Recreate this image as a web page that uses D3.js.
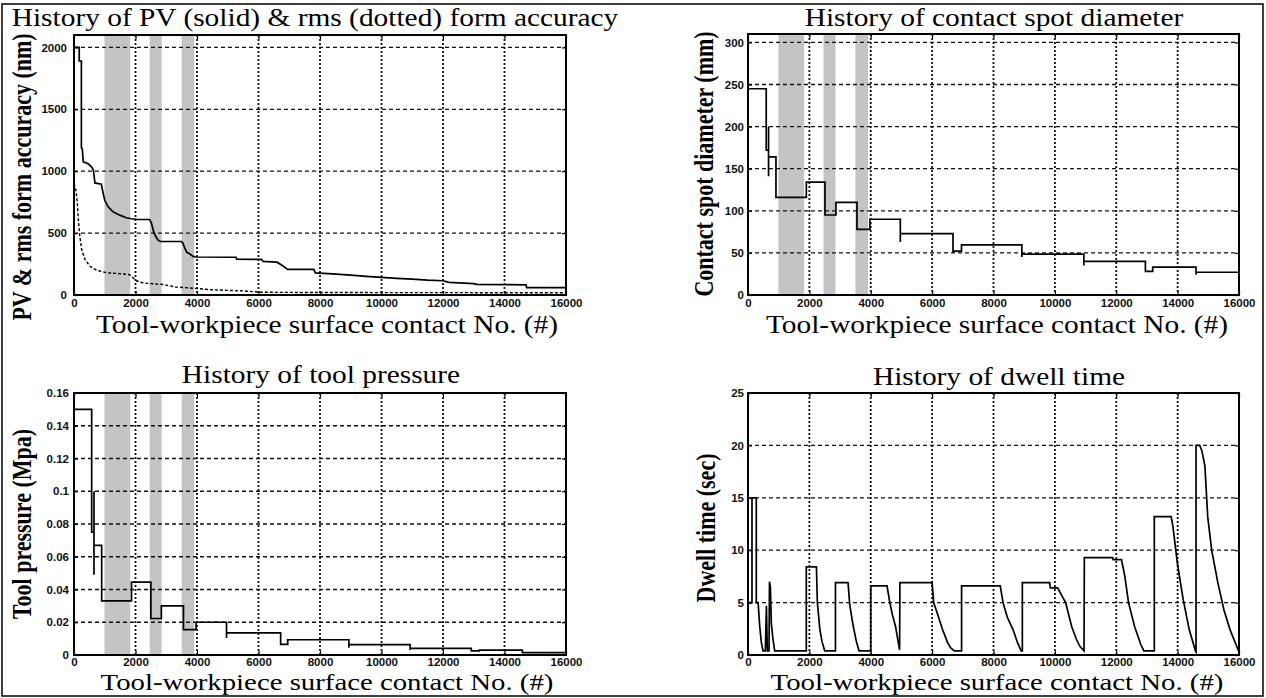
<!DOCTYPE html>
<html>
<head>
<meta charset="utf-8">
<script src="https://cdn.jsdelivr.net/npm/d3@7"></script>
<style>
  body { margin: 0; background: #fff; }
</style>
</head>
<body>
<div id="chart"></div>
<script>
// contact number ticks shared by all four panels
const xTicks = [0, 2000, 4000, 6000, 8000, 10000, 12000, 14000, 16000];
// grey shaded intervals (contact No.)
const bands = [[990, 1830], [2460, 2850], [3500, 3910]];

// PV (solid) form accuracy, nm
const pvData = [
    [0, 2000], [170, 2000], [170, 1890], [240, 1890], [240, 1190], [270, 1180], [300, 1075],
    [460, 1060], [570, 1035], [630, 1010], [680, 905], [890, 895], [950, 820], [1000, 765],
    [1110, 712], [1270, 672], [1490, 645], [1700, 624], [1870, 616], [2030, 611], [2460, 610],
    [2520, 580], [2590, 512], [2660, 472], [2730, 445], [2810, 432], [3490, 432], [3540, 420],
    [3600, 380], [3670, 345], [3760, 333], [3870, 312], [3970, 307], [5270, 305], [5290, 290],
    [6100, 287], [6150, 272], [6600, 265], [6750, 242], [6950, 207], [7800, 207], [7850, 178],
    [8400, 170], [9000, 160], [9500, 150], [10000, 142], [10500, 134], [11000, 128], [11500, 120],
    [12000, 115], [12200, 102], [13000, 92], [13100, 86], [14000, 84], [14700, 82], [14720, 60],
    [16000, 60]
];
// rms (dotted) form accuracy, nm
const rmsData = [
    [0, 900], [60, 850], [110, 740], [140, 610], [190, 475], [250, 365], [360, 285], [520, 232],
    [730, 200], [1060, 180], [1500, 172], [1800, 165], [1920, 140], [2030, 115], [2250, 97],
    [2600, 90], [2900, 85], [3300, 65], [3700, 58], [4000, 52], [4500, 42], [5500, 33],
    [6100, 22], [8000, 20], [16000, 18]
];
// contact spot diameter, mm
const spotData = [
    [0, 245], [594, 245], [594, 172], [670, 172], [670, 200], [670, 141], [670, 164], [911, 164],
    [911, 116], [1901, 116], [1901, 134], [2508, 134], [2508, 95], [2865, 95], [2865, 110],
    [3551, 110], [3551, 78], [3974, 78], [3974, 90], [4964, 90], [4964, 63], [4964, 73],
    [6680, 73], [6680, 50], [6680, 52], [6957, 52], [6957, 59.5], [8924, 59.5], [8924, 45],
    [8924, 48.5], [10944, 48.5], [10944, 35], [10944, 40], [12950, 40], [12950, 28], [13188, 28],
    [13188, 33], [14600, 33], [14600, 24], [14600, 27], [16000, 27]
];
// tool pressure, MPa
const pressureData = [
    [0, 0.150], [575, 0.150], [575, 0.075], [650, 0.075], [650, 0.100], [650, 0.049], [650, 0.067],
    [900, 0.067], [900, 0.033], [1870, 0.033], [1870, 0.0445], [2500, 0.0445], [2500, 0.0223],
    [2840, 0.0223], [2840, 0.030], [3560, 0.030], [3560, 0.0155], [3970, 0.0155], [3970, 0.020],
    [4960, 0.020], [4960, 0.0104], [4960, 0.0135], [6720, 0.0135], [6720, 0.0065], [6950, 0.0065],
    [6950, 0.0093], [8940, 0.0093], [8940, 0.0045], [8940, 0.0063], [10930, 0.0063], [10930, 0.003],
    [10930, 0.004], [12920, 0.004], [12920, 0.0025], [13180, 0.0025], [13180, 0.003], [14580, 0.003],
    [14580, 0.0015], [16000, 0.0015]
];
// dwell time, sec
const dwellData = [
    [0, 5], [130, 5], [130, 15], [270, 15], [270, 5], [330, 5], [380, 2.8], [435, 1.2], [490, 0.4],
    [565, 0.4], [600, 4.7], [630, 0.4], [685, 0.4], [700, 7], [730, 6.5], [760, 3], [815, 1.5],
    [870, 0.4], [1900, 0.4], [1900, 8.4], [2230, 8.4], [2260, 5], [2340, 2.5], [2410, 1.3],
    [2500, 0.4], [2850, 0.4], [2850, 6.9], [3260, 6.9], [3315, 4.8], [3420, 2.9], [3530, 1.3],
    [3620, 0.4], [4000, 0.4], [4000, 6.6], [4530, 6.6], [4610, 5.2], [4700, 3.9], [4810, 2.7],
    [4880, 1.5], [4940, 0.5], [4950, 6.9], [6000, 6.9], [6050, 5], [6200, 3.7], [6330, 2.5],
    [6500, 1.2], [6600, 0.7], [6720, 0.4], [6960, 0.4], [6960, 6.6], [8220, 6.6], [8310, 5],
    [8450, 3.6], [8640, 2.4], [8780, 1.2], [8900, 0.4], [8940, 0.4], [8940, 6.9], [9830, 6.9],
    [9850, 6.4], [10090, 6.4], [10200, 5.8], [10350, 5], [10550, 2.7], [10700, 1.5], [10820, 0.8],
    [10950, 0.4], [10960, 9.3], [11880, 9.3], [11900, 9.1], [12170, 9.1], [12280, 7.5], [12400, 5],
    [12600, 2.7], [12800, 1], [12900, 0.4], [13240, 0.4], [13240, 13.2], [13790, 13.2],
    [13850, 12.2], [13990, 8.8], [14180, 5.3], [14380, 2.4], [14580, 0.4], [14600, 0.3], [14600, 20],
    [14720, 20], [14790, 19.5], [14890, 18], [14980, 13.2], [15110, 10], [15310, 6.9], [15510, 4.3],
    [15710, 2.4], [15970, 0.5], [16000, 0.3]
];

const pvTicks = [0, 500, 1000, 1500, 2000];
const spotTicks = [0, 50, 100, 150, 200, 250, 300];
const pressureTicks = [0, 0.02, 0.04, 0.06, 0.08, 0.1, 0.12, 0.14, 0.16];
const dwellTicks = [0, 5, 10, 15, 20, 25];

const width = 1266, height = 698;
const serif = "'Liberation Serif', 'Times New Roman', serif";
const sans = "'Liberation Sans', Arial, sans-serif";
const stretch = 1.2; // the figure is widened horizontally

const svg = d3.select("#chart")
    .append("svg")
    .attr("width", width)
    .attr("height", height);

svg.append("rect")
    .attr("x", 0).attr("y", 0)
    .attr("width", width).attr("height", height)
    .attr("fill", "#fff");

svg.append("rect")
    .attr("x", 2).attr("y", 4)
    .attr("width", 1261).attr("height", 692)
    .attr("fill", "none")
    .attr("stroke", "#000")
    .attr("stroke-width", 1.5);

function label(g, txt, x, y, size, weight, rot) {
    g.append("text")
        .text(txt)
        .attr("transform", `translate(${x},${y}) scale(${stretch},1)` + (rot ? " rotate(-90)" : ""))
        .attr("text-anchor", "middle")
        .attr("font-family", serif)
        .attr("font-size", size)
        .attr("font-weight", weight)
        .attr("fill", "#000");
}

function drawPanel(p) {
    const g = svg.append("g");
    const x = d3.scaleLinear().domain([0, 16000]).range([p.left, p.right]);
    const y = d3.scaleLinear().domain(p.yDomain).range([p.bottom, p.top]);

    g.append("g")
        .selectAll("rect")
        .data(p.bands || [])
        .join("rect")
        .attr("x", d => x(d[0]))
        .attr("width", d => x(d[1]) - x(d[0]))
        .attr("y", p.top + 1)
        .attr("height", p.bottom - p.top - 2)
        .attr("fill", "#c4c4c4");

    // grid
    g.append("g")
        .selectAll("line")
        .data(xTicks.filter(d => d > 0 && d < 16000))
        .join("line")
        .attr("x1", d => x(d)).attr("x2", d => x(d))
        .attr("y1", p.top).attr("y2", p.bottom)
        .attr("stroke", "#111")
        .attr("stroke-width", 1.8)
        .attr("stroke-dasharray", "2,2");
    g.append("g")
        .selectAll("line")
        .data(p.yTicks.filter(d => d > 0 && y(d) > p.top + 1))
        .join("line")
        .attr("x1", p.left).attr("x2", p.right)
        .attr("y1", d => y(d)).attr("y2", d => y(d))
        .attr("stroke", "#111")
        .attr("stroke-width", 1.3)
        .attr("stroke-dasharray", "4,3");

    const fmt = p.fmt || d3.format("d");
    const styleAxis = a => {
        a.attr("font-family", sans).attr("font-size", 11.5).attr("font-weight", "bold");
        a.select(".domain").remove();
        a.selectAll(".tick line").attr("stroke", "#000").attr("stroke-width", 1.2);
        a.selectAll("text").attr("fill", "#111");
    };
    g.append("g")
        .attr("transform", `translate(0,${p.bottom})`)
        .call(d3.axisBottom(x).tickValues(xTicks).tickFormat(d3.format("d")).tickSizeInner(-4).tickSizeOuter(0).tickPadding(p.xPad))
        .call(styleAxis);
    g.append("g")
        .attr("transform", `translate(0,${p.top})`)
        .call(d3.axisTop(x).tickValues(xTicks).tickFormat("").tickSizeInner(-4).tickSizeOuter(0))
        .call(styleAxis);
    g.append("g")
        .attr("transform", `translate(${p.left},0)`)
        .call(d3.axisLeft(y).tickValues(p.yTicks).tickFormat(fmt).tickSizeInner(-4).tickSizeOuter(0).tickPadding(p.yPad))
        .call(styleAxis);
    g.append("g")
        .attr("transform", `translate(${p.right},0)`)
        .call(d3.axisRight(y).tickValues(p.yTicks).tickFormat("").tickSizeInner(-4).tickSizeOuter(0))
        .call(styleAxis);

    const line = d3.line().x(d => x(d[0])).y(d => y(d[1]));
    p.series.forEach(s => {
        g.append("path")
            .datum(s.data)
            .attr("d", line)
            .attr("fill", "none")
            .attr("stroke", "#000")
            .attr("stroke-width", s.dash ? 1.4 : 1.7)
            .attr("stroke-dasharray", s.dash || null);
    });

    g.append("rect")
        .attr("x", p.left).attr("y", p.top)
        .attr("width", p.right - p.left).attr("height", p.bottom - p.top)
        .attr("fill", "none")
        .attr("stroke", "#000")
        .attr("stroke-width", 2);

    label(g, p.title, p.titleX, p.titleY, 24.5, "normal", false);
    label(g, "Tool-workpiece surface contact No. (#)", p.xlabelX, p.xlabelY, p.xlabelSize || 24.5, "normal", false);
    label(g, p.ylabel, p.ylabelX, p.ylabelY, 22, "bold", true);
}

drawPanel({
    left: 74, right: 566, top: 35, bottom: 295, yDomain: [0, 2100], yTicks: pvTicks,
    bands: bands, series: [{ data: pvData }, { data: rmsData, dash: "3,2" }],
    xPad: 4, yPad: 7,
    title: "History of PV (solid) & rms (dotted) form accuracy", titleX: 315, titleY: 26,
    xlabelX: 327, xlabelY: 333,
    ylabel: "PV & rms form accuracy (nm)", ylabelX: 31, ylabelY: 177
});
drawPanel({
    left: 748, right: 1239, top: 34, bottom: 295, yDomain: [0, 310], yTicks: spotTicks,
    bands: bands, series: [{ data: spotData }],
    xPad: 4, yPad: 4,
    title: "History of contact spot diameter", titleX: 994, titleY: 26,
    xlabelX: 997, xlabelY: 333,
    ylabel: "Contact spot diameter (mm)", ylabelX: 713, ylabelY: 164
});
drawPanel({
    left: 74, right: 566, top: 393, bottom: 655, yDomain: [0, 0.16], yTicks: pressureTicks,
    bands: bands, series: [{ data: pressureData }],
    fmt: d => String(+d.toFixed(2)),
    xPad: 3, yPad: 5,
    title: "History of tool pressure", titleX: 321, titleY: 383,
    xlabelX: 327, xlabelY: 690, xlabelSize: 24,
    ylabel: "Tool pressure (Mpa)", ylabelX: 31, ylabelY: 524
});
drawPanel({
    left: 748, right: 1239, top: 393, bottom: 655, yDomain: [0, 25], yTicks: dwellTicks,
    series: [{ data: dwellData }],
    xPad: 3, yPad: 4,
    title: "History of dwell time", titleX: 999, titleY: 385,
    xlabelX: 997, xlabelY: 690, xlabelSize: 24,
    ylabel: "Dwell time (sec)", ylabelX: 715, ylabelY: 528
});
</script>
</body>
</html>
